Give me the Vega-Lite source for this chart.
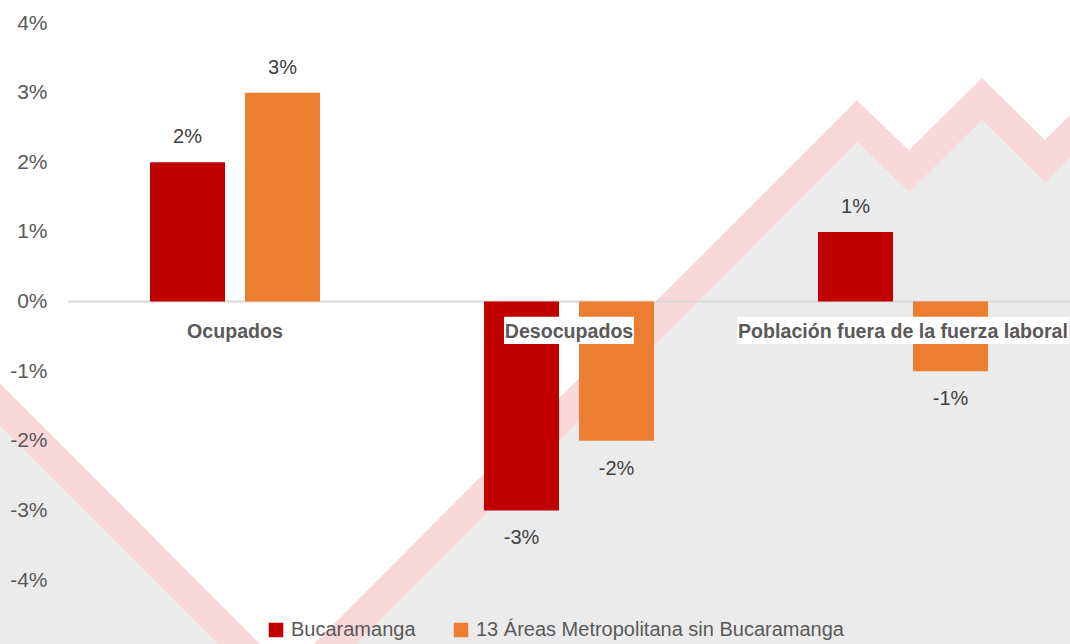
{
  "$schema": "https://vega.github.io/schema/vega-lite/v6.json",
  "width": 1002,
  "height": 557,
  "autosize": {"type": "none"},
  "padding": {"left": 68, "top": 23, "right": 0, "bottom": 64},
  "background": "white",
  "config": {
    "view": {"stroke": null},
    "font": "Liberation Sans, Arial, sans-serif",
    "locale": {"number": {"decimal": ".", "thousands": ",", "grouping": [3], "currency": ["$", ""], "minus": "-"}},
    "axisY": {"ticks": false, "domain": false, "grid": false, "labelFontSize": 21, "labelColor": "#595959", "labelPadding": 21, "title": null}
  },
  "datasets": {
    "bars": [
      {"cat": "Ocupados", "series": "Bucaramanga", "value": 0.02},
      {"cat": "Ocupados", "series": "13 Áreas Metropolitana sin Bucaramanga", "value": 0.03},
      {"cat": "Desocupados", "series": "Bucaramanga", "value": -0.03},
      {"cat": "Desocupados", "series": "13 Áreas Metropolitana sin Bucaramanga", "value": -0.02},
      {"cat": "Población fuera de la fuerza laboral", "series": "Bucaramanga", "value": 0.01},
      {"cat": "Población fuera de la fuerza laboral", "series": "13 Áreas Metropolitana sin Bucaramanga", "value": -0.01}
    ],
    "bg": [
      {"pos": -7.984, "edge": -0.016115, "band": -0.013094},
      {"pos": 21.856, "edge": -0.059137, "band": -0.056115},
      {"pos": 78.743, "edge": 0.022878, "band": 0.025899},
      {"pos": 83.932, "edge": 0.015683, "band": 0.018705},
      {"pos": 91.218, "edge": 0.026043, "band": 0.029065},
      {"pos": 97.505, "edge": 0.017122, "band": 0.020144},
      {"pos": 101.497, "edge": 0.022878, "band": 0.025899}
    ],
    "cats": [
      {"cat": "Ocupados"},
      {"cat": "Desocupados"},
      {"cat": "Población fuera de la fuerza laboral"}
    ]
  },
  "resolve": {"scale": {"x": "independent"}},
  "layer": [
    {
      "data": {"name": "bg"},
      "layer": [
        {
          "mark": {"type": "area", "color": "#EBEBEB", "opacity": 1},
          "encoding": {
            "x": {"field": "pos", "type": "quantitative", "scale": {"domain": [0, 100], "nice": false, "zero": false}, "axis": null},
            "y": {"field": "edge", "type": "quantitative", "title": null, "scale": {"domain": [-0.04, 0.04], "nice": false, "zero": false}, "axis": {"zindex": 1}},
            "y2": {"datum": -0.08}
          }
        },
        {
          "mark": {"type": "line", "color": "#F8D8DA", "strokeWidth": 30, "strokeJoin": "miter", "strokeCap": "butt", "strokeMiterLimit": 10},
          "encoding": {
            "x": {"field": "pos", "type": "quantitative", "scale": {"domain": [0, 100], "nice": false, "zero": false}, "axis": null},
            "y": {"field": "band", "type": "quantitative", "title": null, "scale": {"domain": [-0.04, 0.04], "nice": false, "zero": false}, "axis": {"zindex": 1}}
          }
        }
      ]
    },
    {
      "layer": [
        {
          "data": {"values": [{"value": 0}]},
          "mark": {"type": "rule", "color": "#D9D9D9", "strokeWidth": 2},
          "encoding": {"y": {"field": "value", "type": "quantitative", "title": null, "axis": {"zindex": 1}}}
        },
        {
          "data": {"name": "bars"},
          "mark": {"type": "bar"},
          "encoding": {
            "x": {"field": "cat", "type": "nominal", "sort": ["Ocupados", "Desocupados", "Población fuera de la fuerza laboral"], "scale": {"paddingInner": 0, "paddingOuter": 0}, "axis": null},
            "xOffset": {"field": "series", "type": "nominal", "scale": {"domain": ["Bucaramanga", "13 Áreas Metropolitana sin Bucaramanga"], "paddingInner": 0.2105, "paddingOuter": 0.863}},
            "y": {"field": "value", "type": "quantitative", "title": null, "scale": {"domain": [-0.04, 0.04], "nice": false, "zero": false},
              "axis": {"values": [-0.04, -0.03, -0.02, -0.01, 0, 0.01, 0.02, 0.03, 0.04], "format": ".0%", "zindex": 1}},
            "color": {"field": "series", "type": "nominal", "scale": {"domain": ["Bucaramanga", "13 Áreas Metropolitana sin Bucaramanga"], "range": ["#C00000", "#ED7D31"]},
              "legend": {"title": null, "orient": "none", "legendX": 198, "legendY": 597, "direction": "horizontal", "symbolType": "square", "symbolSize": 210, "symbolStrokeWidth": 0, "labelFontSize": 20, "labelColor": "#595959", "labelOffset": 5, "columnPadding": 35, "labelLimit": 600}}
          }
        },
        {
          "data": {"name": "bars"},
          "transform": [{"filter": "datum.value >= 0"}],
          "mark": {"type": "text", "dy": -25, "baseline": "middle", "fontSize": 20, "color": "#404040"},
          "encoding": {
            "x": {"field": "cat", "type": "nominal", "sort": ["Ocupados", "Desocupados", "Población fuera de la fuerza laboral"], "axis": null},
            "xOffset": {"field": "series", "type": "nominal", "scale": {"domain": ["Bucaramanga", "13 Áreas Metropolitana sin Bucaramanga"]}},
            "y": {"field": "value", "type": "quantitative", "title": null, "axis": {"zindex": 1}},
            "text": {"field": "value", "type": "quantitative", "format": ".0%"}
          }
        },
        {
          "data": {"name": "bars"},
          "transform": [{"filter": "datum.value < 0"}],
          "mark": {"type": "text", "dy": 28, "baseline": "middle", "fontSize": 20, "color": "#404040"},
          "encoding": {
            "x": {"field": "cat", "type": "nominal", "sort": ["Ocupados", "Desocupados", "Población fuera de la fuerza laboral"], "axis": null},
            "xOffset": {"field": "series", "type": "nominal", "scale": {"domain": ["Bucaramanga", "13 Áreas Metropolitana sin Bucaramanga"]}},
            "y": {"field": "value", "type": "quantitative", "title": null, "axis": {"zindex": 1}},
            "text": {"field": "value", "type": "quantitative", "format": ".0%"}
          }
        },
        {
          "data": {"name": "cats"},
          "transform": [{"filter": "datum.cat === 'Ocupados'"}],
          "mark": {"type": "bar", "color": "white", "width": 100},
          "encoding": {
            "x": {"field": "cat", "type": "nominal", "sort": ["Ocupados", "Desocupados", "Población fuera de la fuerza laboral"], "axis": null},
            "y": {"datum": -0.0022, "type": "quantitative", "title": null, "axis": {"zindex": 1}},
            "y2": {"datum": -0.0061}
          }
        },
        {
          "data": {"name": "cats"},
          "transform": [{"filter": "datum.cat === 'Desocupados'"}],
          "mark": {"type": "bar", "color": "white", "width": 130},
          "encoding": {
            "x": {"field": "cat", "type": "nominal", "sort": ["Ocupados", "Desocupados", "Población fuera de la fuerza laboral"], "axis": null},
            "y": {"datum": -0.0022, "type": "quantitative", "title": null, "axis": {"zindex": 1}},
            "y2": {"datum": -0.0061}
          }
        },
        {
          "data": {"name": "cats"},
          "transform": [{"filter": "datum.cat === 'Población fuera de la fuerza laboral'"}],
          "mark": {"type": "bar", "color": "white", "width": 332},
          "encoding": {
            "x": {"field": "cat", "type": "nominal", "sort": ["Ocupados", "Desocupados", "Población fuera de la fuerza laboral"], "axis": null},
            "y": {"datum": -0.0022, "type": "quantitative", "title": null, "axis": {"zindex": 1}},
            "y2": {"datum": -0.0061}
          }
        },
        {
          "data": {"name": "cats"},
          "mark": {"type": "text", "baseline": "middle", "fontSize": 19.6, "fontWeight": "bold", "color": "#595959"},
          "encoding": {
            "x": {"field": "cat", "type": "nominal", "sort": ["Ocupados", "Desocupados", "Población fuera de la fuerza laboral"], "axis": null},
            "y": {"datum": -0.0044, "type": "quantitative", "title": null, "axis": {"zindex": 1}},
            "text": {"field": "cat", "type": "nominal"}
          }
        }
      ]
    }
  ]
}
